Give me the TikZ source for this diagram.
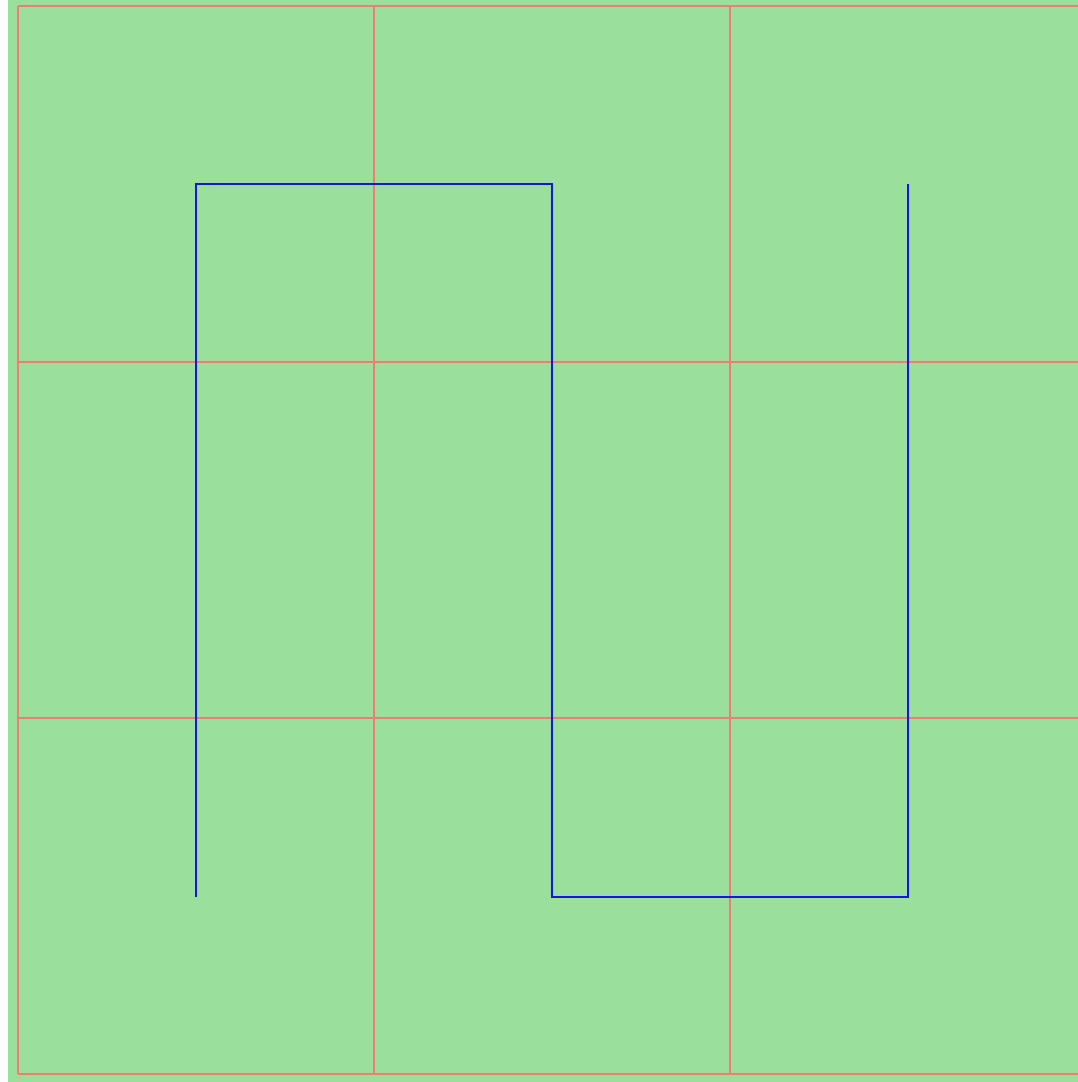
\documentclass[tikz,border=0pt]{standalone}
\definecolor{bggreen}{HTML}{9AE09C}
\definecolor{gridred}{HTML}{F07C72}
\definecolor{pathblue}{HTML}{1414F0}
\begin{document}
\begin{tikzpicture}[x=1pt,y=-1pt,
  gridline/.style={draw=gridred,line width=2pt},
  wire/.style={draw=pathblue,line width=2.5pt,line join=miter}]
\useasboundingbox (0,0) rectangle (1078,1082);
\fill[bggreen] (8,0) rectangle (1078,1082);
\begin{scope}
\clip (8,0) rectangle (1078,1082);
\foreach \y in {6,362,718,1074} \draw[gridline] (18,\y) -- (1090,\y);
\foreach \x in {18,374,730} \draw[gridline] (\x,6) -- (\x,1074);
\end{scope}
\coordinate (p1) at (196,897);
\coordinate (p2) at (196,184);
\coordinate (p3) at (552,184);
\coordinate (p4) at (552,897);
\coordinate (p5) at (908,897);
\coordinate (p6) at (908,184);
\draw[wire] (p1) -- (p2) -- (p3) -- (p4) -- (p5) -- (p6);
\end{tikzpicture}
\end{document}
